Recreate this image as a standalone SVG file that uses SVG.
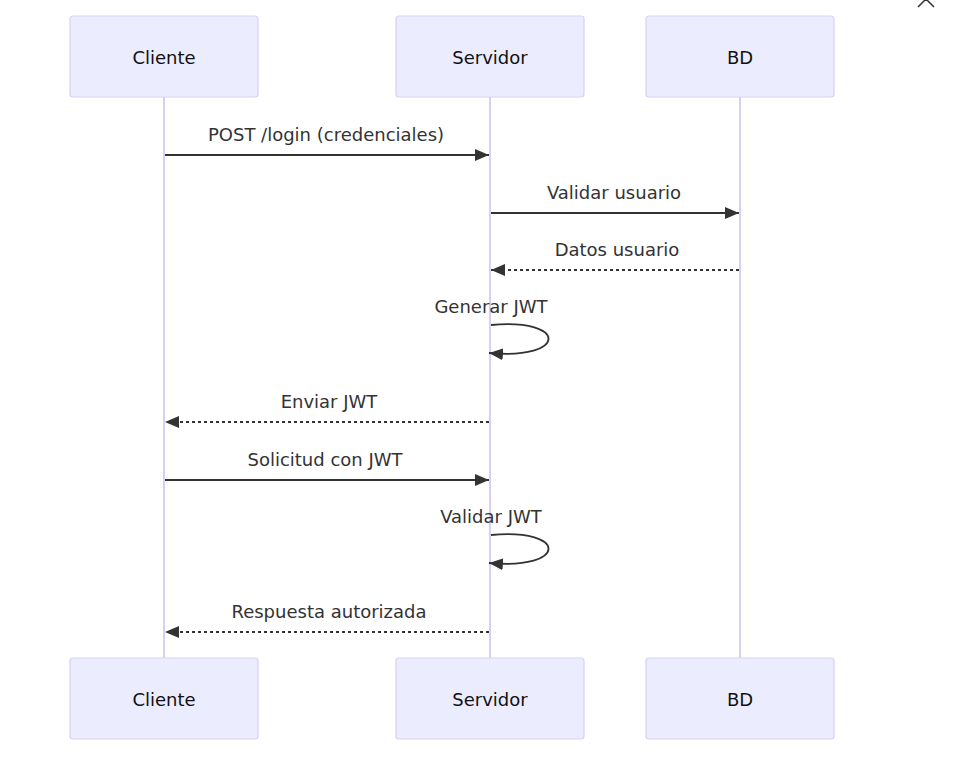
<svg xmlns="http://www.w3.org/2000/svg" width="966" height="775" viewBox="0 0 966 775">
<style>
.actor{fill:#ECECFF;stroke:#d9cff5;stroke-width:1.2}
.life{stroke:#d9cff5;stroke-width:2}
.atext{font-family:"DejaVu Sans",sans-serif;font-size:18px;fill:#111;text-anchor:middle;dominant-baseline:central}
.mtext{font-family:"DejaVu Sans",sans-serif;font-size:18px;fill:#333;text-anchor:middle;dominant-baseline:central}
.msg{stroke:#333;stroke-width:1.8;fill:none}
.dash{stroke-dasharray:3,3}
</style>
<defs>
<marker id="arrow" viewBox="0 0 14 12" refX="14" refY="6" markerWidth="14" markerHeight="12" markerUnits="userSpaceOnUse" orient="auto">
<path d="M0,0 L14,6 L0,12 z" fill="#333"/>
</marker>
</defs>
<rect width="966" height="775" fill="#fff"/>
<g id="lifelines">
<line class="life" x1="164" y1="97" x2="164" y2="658"/>
<line class="life" x1="490" y1="97" x2="490" y2="658"/>
<line class="life" x1="740" y1="97" x2="740" y2="658"/>
</g>
<g id="actor-cliente-top"><rect class="actor" x="70" y="16" width="188" height="81" rx="3"/><text class="atext" x="164" y="57">Cliente</text></g>
<g id="actor-servidor-top"><rect class="actor" x="396" y="16" width="188" height="81" rx="3"/><text class="atext" x="490" y="57">Servidor</text></g>
<g id="actor-bd-top"><rect class="actor" x="646" y="16" width="188" height="81" rx="3"/><text class="atext" x="740" y="57">BD</text></g>
<g id="actor-cliente-bottom"><rect class="actor" x="70" y="658" width="188" height="81" rx="3"/><text class="atext" x="164" y="699">Cliente</text></g>
<g id="actor-servidor-bottom"><rect class="actor" x="396" y="658" width="188" height="81" rx="3"/><text class="atext" x="490" y="699">Servidor</text></g>
<g id="actor-bd-bottom"><rect class="actor" x="646" y="658" width="188" height="81" rx="3"/><text class="atext" x="740" y="699">BD</text></g>
<g id="connectors">
<line class="msg" x1="165" y1="155" x2="489" y2="155" marker-end="url(#arrow)"/>
<line class="msg" x1="491" y1="213" x2="739" y2="213" marker-end="url(#arrow)"/>
<line class="msg dash" x1="739" y1="270" x2="491" y2="270" marker-end="url(#arrow)"/>
<path class="msg" d="M491,325 C568,318 568,360 489,353" marker-end="url(#arrow)"/>
<line class="msg dash" x1="489" y1="422" x2="165" y2="422" marker-end="url(#arrow)"/>
<line class="msg" x1="165" y1="480" x2="489" y2="480" marker-end="url(#arrow)"/>
<path class="msg" d="M491,535 C568,528 568,570 489,563" marker-end="url(#arrow)"/>
<line class="msg dash" x1="489" y1="632" x2="165" y2="632" marker-end="url(#arrow)"/>
</g>
<g id="labels">
<text class="mtext" x="326" y="134">POST /login (credenciales)</text>
<text class="mtext" x="614" y="192">Validar usuario</text>
<text class="mtext" x="617" y="249">Datos usuario</text>
<text class="mtext" x="491" y="306">Generar JWT</text>
<text class="mtext" x="329" y="401">Enviar JWT</text>
<text class="mtext" x="325" y="459">Solicitud con JWT</text>
<text class="mtext" x="491" y="516">Validar JWT</text>
<text class="mtext" x="329" y="611">Respuesta autorizada</text>
</g>
<g id="ui-close"><path d="M918,7 L926,-1 L934,7" fill="none" stroke="#333" stroke-width="1.5"/></g>
</svg>
